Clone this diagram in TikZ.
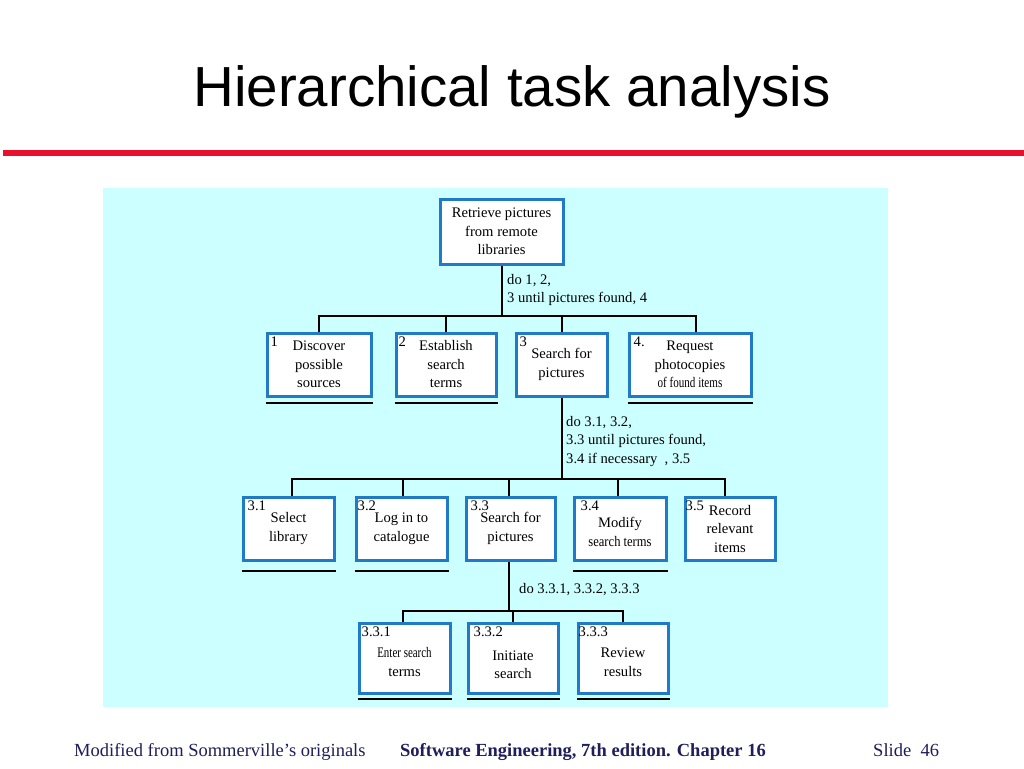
\documentclass[tikz,border=0pt]{standalone}
\usepackage{fontspec}
\usepackage{graphicx}
\setmainfont{Liberation Serif}
\newfontfamily\titlefont{Liberation Sans}
\definecolor{bgcyan}{RGB}{204,255,255}
\definecolor{boxblue}{RGB}{32,122,200}
\definecolor{slidered}{RGB}{232,16,44}
\definecolor{footnavy}{RGB}{30,30,90}
\tikzset{
  taskbox/.style={draw=boxblue, line width=3pt, fill=white, inner sep=0pt,
    align=center, font=\fontsize{14.6}{18.5}\selectfont, text=black},
  numlabel/.style={anchor=north west, inner sep=0pt, font=\fontsize{14.6}{16}\selectfont},
  link/.style={draw=black, line width=2pt},
  uline/.style={draw=black, line width=2pt},
  plan/.style={anchor=north west, inner sep=0pt, align=left, font=\fontsize{14.6}{18.5}\selectfont},
  foot/.style={inner sep=0pt, text=footnavy, font=\fontsize{18.5}{20}\selectfont}
}
\begin{document}
\begin{tikzpicture}[x=1pt,y=-1pt]
\useasboundingbox (0,0) rectangle (1024,768);
\fill[white] (0,0) rectangle (1024,768);
% title
\node[inner sep=0pt, anchor=base, font=\titlefont\fontsize{56.5}{60}\selectfont] (title) at (512,106) {Hierarchical task analysis};
\fill[slidered] (3,150) rectangle (1024,156);
% background panel
\fill[bgcyan] (103,188) rectangle (888,707);

% top
\node[taskbox, minimum width=123pt, minimum height=65pt] (top) at (501.5,231.5) {Retrieve pictures\\from remote\\libraries};

% level 1
\node[taskbox, minimum width=104pt, minimum height=63pt] (b1) at (319,364.5) {Discover\\possible\\sources};
\node[taskbox, minimum width=100pt, minimum height=63pt] (b2) at (446,364.5) {Establish\\search\\terms};
\node[taskbox, minimum width=91pt, minimum height=63pt] (b3) at (561.5,364.5) {Search for\\pictures};
\node[taskbox, minimum width=122pt, minimum height=63pt] (b4) at (690,364.5) {Request\\photocopies\\\scalebox{0.76}[1]{of found items}};

% level 2
\node[taskbox, minimum width=91pt, minimum height=63pt] (c1) at (288.5,528.5) {Select\\library};
\node[taskbox, minimum width=91pt, minimum height=63pt] (c2) at (401.5,528.5) {Log in to\\catalogue};
\node[taskbox, minimum width=89pt, minimum height=63pt] (c3) at (510.5,528.5) {Search for\\pictures};
\node[taskbox, minimum width=92pt, minimum height=63pt] (c4) at (620,528.5) {\rule{0pt}{17pt}Modify\\\scalebox{0.86}[1]{search terms}};
\node[taskbox, minimum width=90pt, minimum height=63pt] (c5) at (730,528.5) {Record\\relevant\\items};

% level 3
\node[taskbox, minimum width=91pt, minimum height=70pt] (d1) at (404.5,658) {\rule{0pt}{18pt}\scalebox{0.75}[1]{Enter search}\\terms};
\node[taskbox, minimum width=90pt, minimum height=70pt] (d2) at (513,658) {\rule{0pt}{23pt}Initiate\\search};
\node[taskbox, minimum width=90pt, minimum height=70pt] (d3) at (623,658) {\rule{0pt}{18pt}Review\\results};

% number labels
\node[numlabel] (n1) at ([xshift=5pt,yshift=-5pt]b1.north west) {1};
\node[numlabel] (n2) at ([xshift=4pt,yshift=-5pt]b2.north west) {2};
\node[numlabel] (n3) at ([xshift=5pt,yshift=-5pt]b3.north west) {3};
\node[numlabel] (n4) at ([xshift=6pt,yshift=-5pt]b4.north west) {4.};
\node[numlabel] (m1) at ([xshift=6pt,yshift=-5pt]c1.north west) {3.1};
\node[numlabel] (m2) at ([xshift=3pt,yshift=-5pt]c2.north west) {3.2};
\node[numlabel] (m3) at ([xshift=6pt,yshift=-5pt]c3.north west) {3.3};
\node[numlabel] (m4) at ([xshift=8pt,yshift=-5pt]c4.north west) {3.4};
\node[numlabel] (m5) at ([xshift=2pt,yshift=-5pt]c5.north west) {3.5};
\node[numlabel] (k1) at ([xshift=4pt,yshift=-5pt]d1.north west) {3.3.1};
\node[numlabel] (k2) at ([xshift=7pt,yshift=-5pt]d2.north west) {3.3.2};
\node[numlabel] (k3) at ([xshift=2pt,yshift=-5pt]d3.north west) {3.3.3};

% plans
\node[plan] (p0) at (507,274) {do 1, 2,\\3 until pictures found, 4};
\node[plan] (p1) at (566,416) {do 3.1, 3.2,\\3.3 until pictures found,\\3.4 if necessary\ \ , 3.5};
\node[plan, anchor=base west] (p2) at (519,593) {do 3.3.1, 3.3.2, 3.3.3};

% connectors
\coordinate (j0) at (501.5,316);
\draw[link] (top.south) -- (j0);
\draw[link] (b1.north) |- (j0);
\draw[link] (b2.north) |- (j0);
\draw[link] (b3.north) |- (j0);
\draw[link] ([xshift=6pt]b4.north) |- (j0);

\coordinate (j1) at (561.5,479);
\draw[link] (b3.south) -- (j1);
\draw[link] ([xshift=3.5pt]c1.north) |- (j1);
\draw[link] ([xshift=1.5pt]c2.north) |- (j1);
\draw[link] ([xshift=-1.5pt]c3.north) |- (j1);
\draw[link] ([xshift=-2pt]c4.north) |- (j1);
\draw[link] ([xshift=-5pt]c5.north) |- (j1);

\coordinate (j2) at (509,611);
\draw[link] ([xshift=-1.5pt]c3.south) -- (j2);
\draw[link] ([xshift=-1.5pt]d1.north) |- (j2);
\draw[link] (d2.north) |- (j2);
\draw[link] (d3.north) |- (j2);

% underlines
\foreach \b in {b1,b2,b4}{
  \draw[uline] ([yshift=-5pt]\b.south west) -- ([yshift=-5pt]\b.south east);
}
\foreach \b in {c1,c2,c4}{
  \draw[uline] ([yshift=-9pt]\b.south west) -- ([yshift=-9pt]\b.south east);
}
\foreach \b in {d1,d2,d3}{
  \draw[uline] ([yshift=-4pt]\b.south west) -- ([yshift=-4pt]\b.south east);
}

% footer
\node[foot, anchor=base west] (f1) at (74,756) {Modified from Sommerville’s originals};
\node[foot, anchor=base west, font=\bfseries\fontsize{18.5}{20}\selectfont] (f2) at (400,756) {Software Engineering, 7th edition. Chapter 16};
\node[foot, anchor=base west] (f3) at (873,756) {Slide\ \ 46};
\end{tikzpicture}
\end{document}
